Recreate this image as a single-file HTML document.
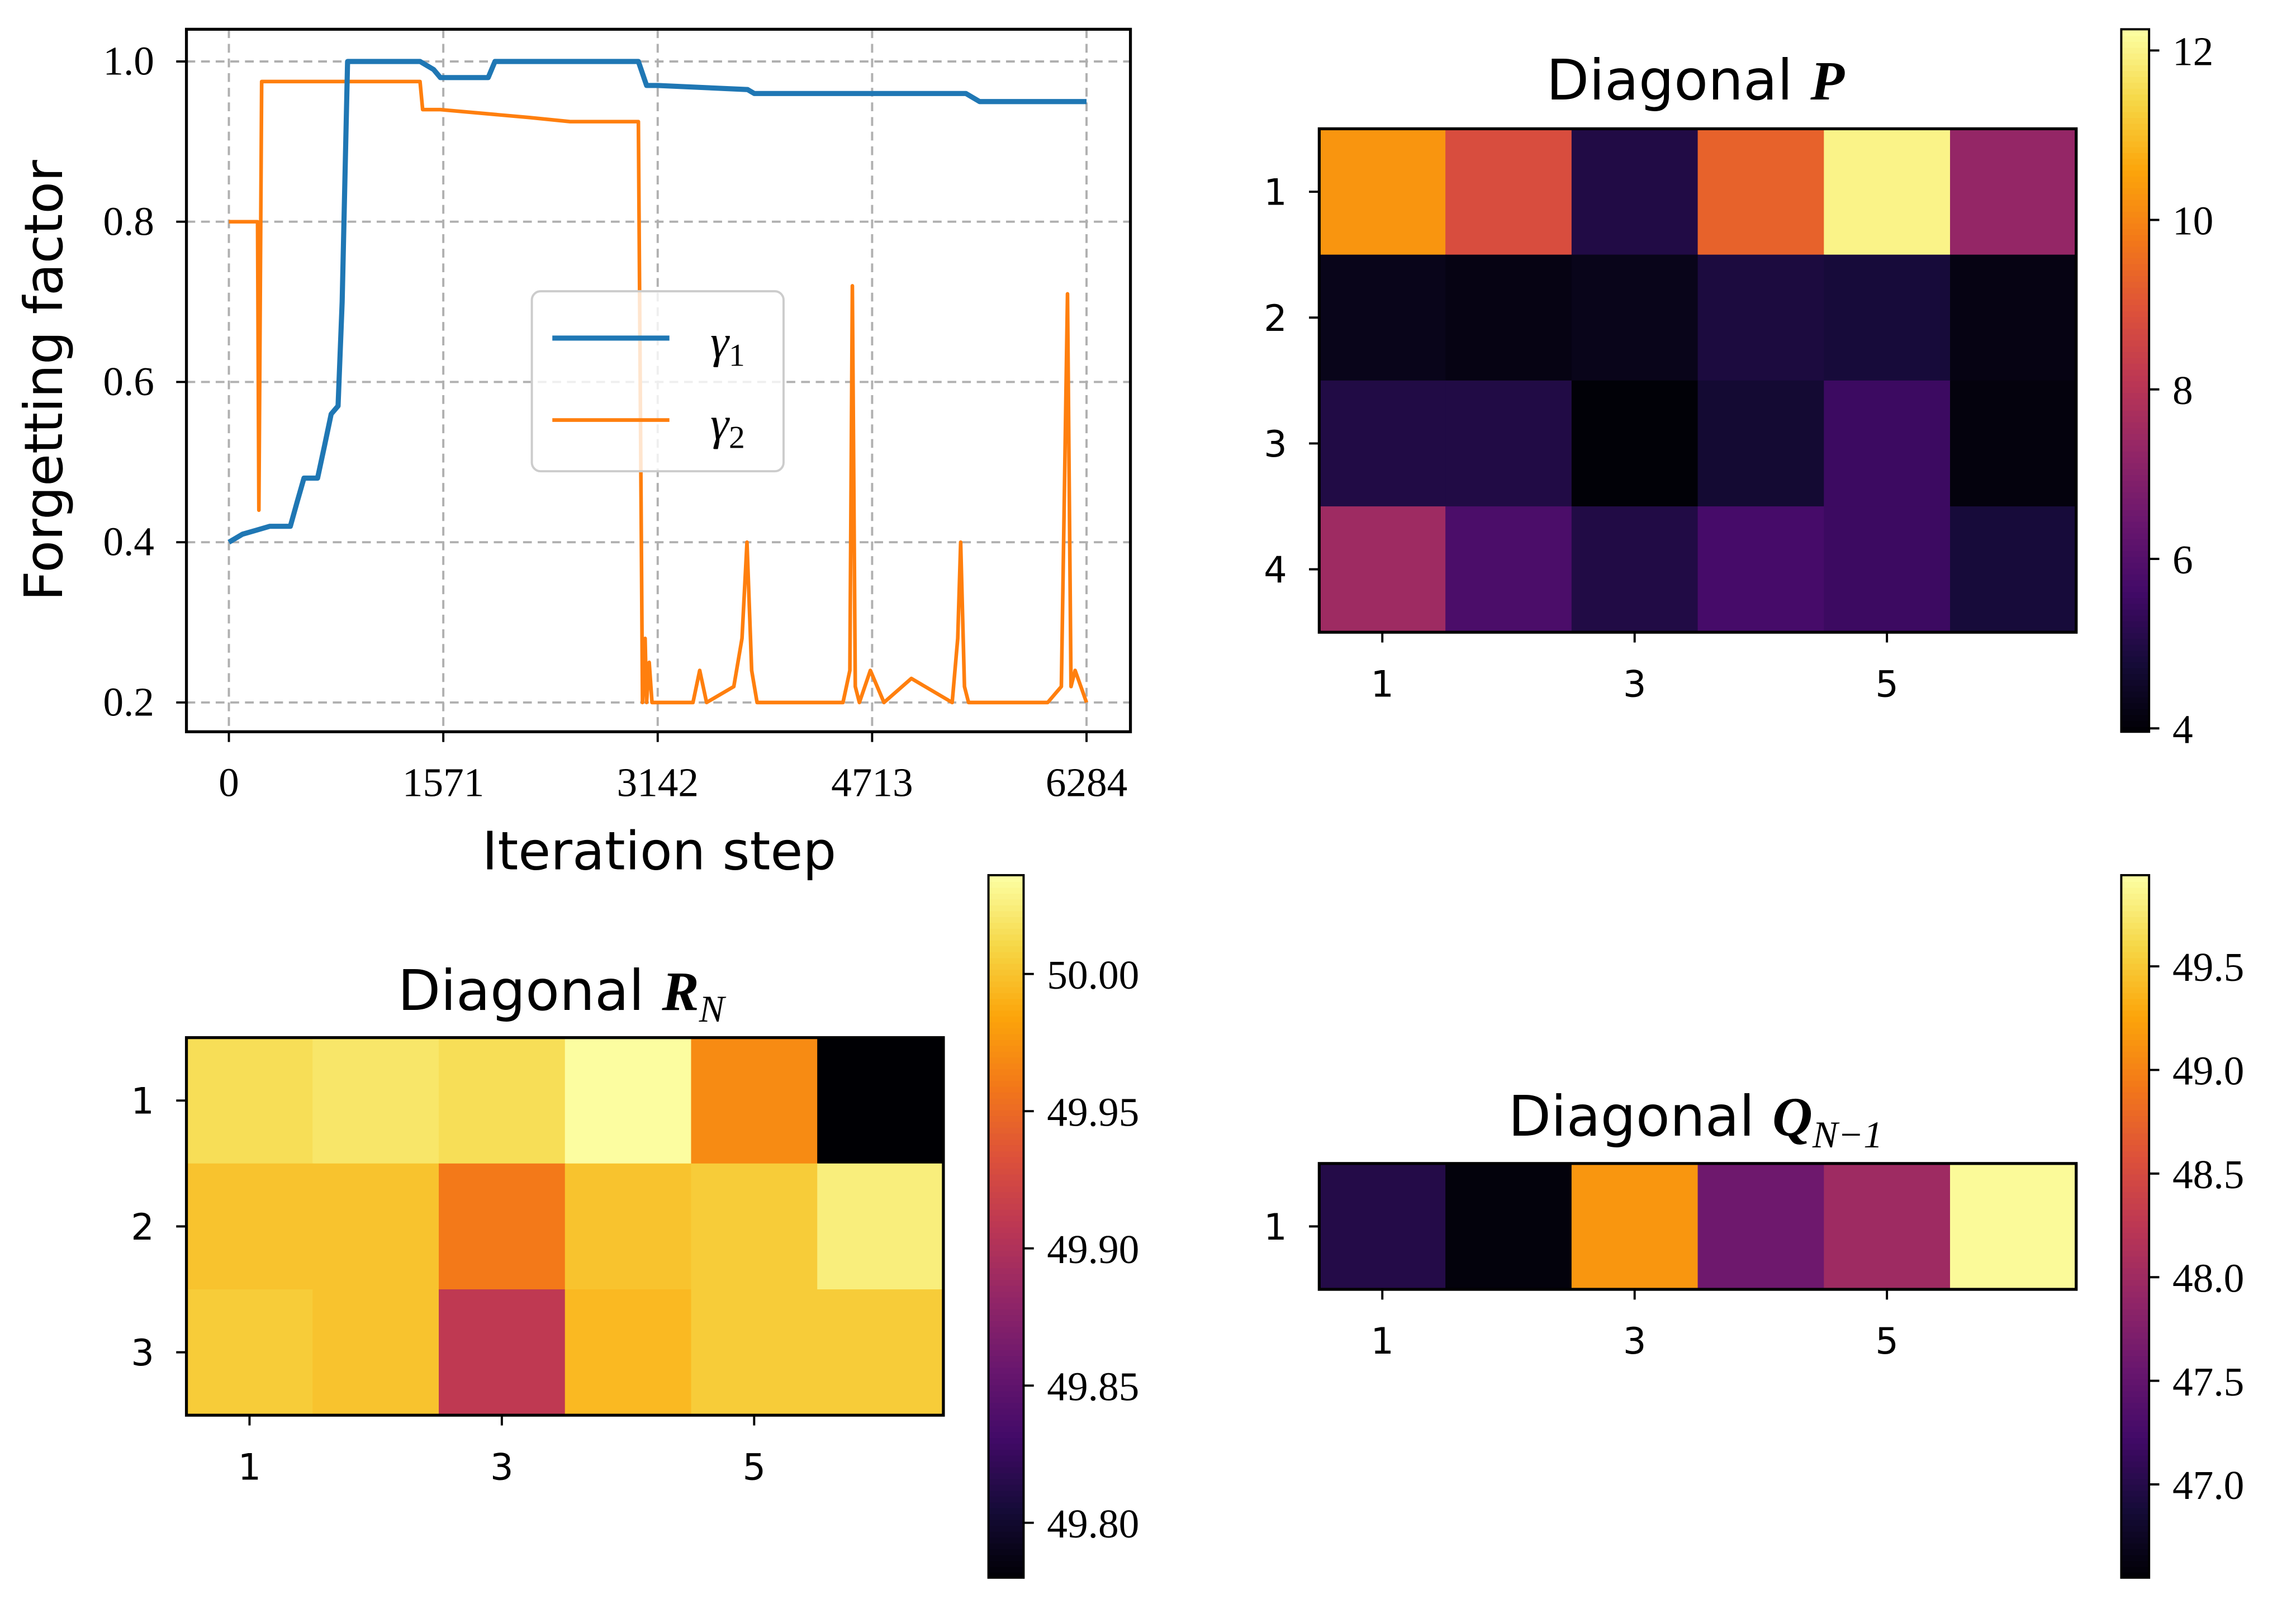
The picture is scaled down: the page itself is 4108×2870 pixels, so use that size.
<!DOCTYPE html>
<html><head><meta charset="utf-8"><style>
html,body{margin:0;padding:0;background:#fff;}
svg{display:block;}
.ser{font-family:"Liberation Serif",serif;}
.sans{font-family:"DejaVu Sans","Liberation Sans",sans-serif;}
</style></head><body>
<svg id="fig" width="4108" height="2870" viewBox="0 0 1568 1096" xmlns="http://www.w3.org/2000/svg">
<rect width="1568" height="1096" fill="#fff"/>
</svg>
<script>
// ---- line chart data ----
const g1Steps=[0,100,200,300,450,500,550,650,700,750,800,830,870,1000,1400,1500,1550,1900,1950,3000,3060,3142,3800,3850,5400,5500,6284];
const g1Vals=[0.40,0.41,0.415,0.42,0.42,0.45,0.48,0.48,0.52,0.56,0.57,0.70,1.0,1.0,1.0,0.99,0.98,0.98,1.0,1.0,0.97,0.97,0.965,0.96,0.96,0.95,0.95];
const g2Steps=[0,210,220,240,1400,1420,1550,2200,2500,3000,3030,3050,3060,3080,3100,3400,3450,3500,3700,3760,3796,3830,3870,4200,4500,4550,4568,4590,4620,4700,4800,5000,5300,5340,5362,5390,5420,6000,6100,6145,6170,6200,6284];
const g2Vals=[0.80,0.80,0.44,0.975,0.975,0.94,0.94,0.93,0.925,0.925,0.20,0.28,0.20,0.25,0.20,0.20,0.24,0.20,0.22,0.28,0.40,0.24,0.20,0.20,0.20,0.24,0.72,0.22,0.20,0.24,0.20,0.23,0.20,0.28,0.40,0.22,0.20,0.20,0.22,0.71,0.22,0.24,0.20];
const xTicks=[0,1571,3142,4713,6284];
const yTicks=[0.2,0.4,0.6,0.8,1.0];
// ---- heatmap data ----
const pVals=[[10.3,8.8,5.0,9.3,12.0,7.3],[4.3,4.2,4.3,4.9,4.8,4.2],[5.0,5.0,4.0,4.7,5.5,4.1],[7.5,5.8,5.0,5.7,5.5,4.8]];
const pTicks=[4,6,8,10,12];
const rVals=[[50.015,50.02,50.015,50.035,49.97,49.78],[50.0,50.0,49.96,50.0,50.005,50.025],[50.005,50.0,49.91,49.995,50.005,50.005]];
const rTicks=[49.80,49.85,49.90,49.95,50.00];
const qVals=[[47.0,46.6,49.15,47.6,48.0,49.9]];
const qTicks=[47.0,47.5,48.0,48.5,49.0,49.5];

const NS="http://www.w3.org/2000/svg";
const svg=document.getElementById('fig');
function el(t,a,p){const e=document.createElementNS(NS,t);for(const k in a)e.setAttribute(k,a[k]);(p||svg).appendChild(e);return e;}
function txt(s,a,p){const e=el('text',a,p);e.textContent=s;return e;}
const inf=['#000004','#160b39','#420a68','#6a176e','#932667','#bc3754','#dd513a','#f37819','#fca50a','#f6d746','#fcffa4'];
function hx(c){return [1,3,5].map(i=>parseInt(c.substr(i,2),16));}
function cmap(t){t=Math.max(0,Math.min(1,t));const f=t*10,i=Math.min(9,Math.floor(f)),r=f-i;const a=hx(inf[i]),b=hx(inf[i+1]);return 'rgb('+a.map((v,k)=>Math.round(v+(b[k]-v)*r)).join(',')+')';}

// ---- line chart ----
const L={x0:127,x1:772,y0:20,y1:500};
const sx=v=>156+v*(742-156)/6284, sy=v=>480-(v-0.2)*(480-42)/0.8;
const lc=el('g',{},svg);


xTicks.forEach(t=>{
 const g=el('line',{x1:sx(t),x2:sx(t),y1:L.y0,y2:L.y1,stroke:'#b0b0b0','stroke-width':1.5,'stroke-dasharray':'6,4'},lc);
 
 el('line',{x1:sx(t),x2:sx(t),y1:L.y1,y2:L.y1+7,stroke:'#000','stroke-width':1.5},lc);
 const tt=txt(String(t),{x:sx(t),y:L.y1+44,'text-anchor':'middle','font-size':28,class:'ser'},lc);
 
});
yTicks.forEach(t=>{
 const g=el('line',{x1:L.x0,x2:L.x1,y1:sy(t),y2:sy(t),stroke:'#b0b0b0','stroke-width':1.5,'stroke-dasharray':'6,4'},lc);
 
 el('line',{x1:L.x0-7,x2:L.x0,y1:sy(t),y2:sy(t),stroke:'#000','stroke-width':1.5},lc);
 const tt=txt(t.toFixed(1),{x:L.x0-22,y:sy(t)+9,'text-anchor':'end','font-size':28,class:'ser'},lc);
 
});
function path(xs,ys,col,w,name){const d=xs.map((x,i)=>(i?'L':'M')+sx(x).toFixed(1)+','+sy(ys[i]).toFixed(1)).join('');const p=el('path',{d:d,fill:'none',stroke:col,'stroke-width':w,'stroke-linejoin':'round'},lc);}
path(g2Steps,g2Vals,'#ff7f0e',2.5,'gamma2-line');
path(g1Steps,g1Vals,'#1f77b4',3.5,'gamma1-line');
el('rect',{x:L.x0,y:L.y0,width:L.x1-L.x0,height:L.y1-L.y0,fill:'none',stroke:'#000','stroke-width':2},lc);
let t=txt('Iteration step',{x:450,y:594,'text-anchor':'middle','font-size':36,class:'sans'},lc);

t=txt('Forgetting factor',{x:0,y:0,transform:'translate(42,260) rotate(-90)','text-anchor':'middle','font-size':36,class:'sans'},lc);

const lg=el('g',{},lc);

el('rect',{x:363,y:199,width:172,height:123,rx:6,fill:'#fff','fill-opacity':0.8,stroke:'#ccc','stroke-width':1.5},lg);
el('line',{x1:377,x2:457,y1:231,y2:231,stroke:'#1f77b4','stroke-width':3.5},lg);
el('line',{x1:377,x2:457,y1:287,y2:287,stroke:'#ff7f0e','stroke-width':2.5},lg);
t=txt('',{x:485,y:244,'font-size':32,class:'ser','font-style':'italic'},lg);t.innerHTML='γ<tspan font-size="22" font-style="normal" dy="6">1</tspan>';

t=txt('',{x:485,y:300,'font-size':32,class:'ser','font-style':'italic'},lg);t.innerHTML='γ<tspan font-size="22" font-style="normal" dy="6">2</tspan>';


// ---- heatmaps ----
function heat(name,vals,x0,y0,vmin,vmax,titleHTML,tx,ty,cb,ticks,fmt){
 const g=el('g',{},svg);
 
 const cw=86.2,ch=86;
 vals.forEach((row,r)=>row.forEach((v,c)=>{
  const rc=el('rect',{x:x0+c*cw,y:y0+r*ch,width:cw+0.6,height:ch+0.6,fill:cmap((v-vmin)/(vmax-vmin))},g);
  
 }));
 const W=cw*6,H=ch*vals.length;
 el('rect',{x:x0,y:y0,width:W,height:H,fill:'none',stroke:'#000','stroke-width':2},g);
 [1,3,5].forEach(k=>{const x=x0+(k-0.5)*cw;el('line',{x1:x,x2:x,y1:y0+H,y2:y0+H+7,stroke:'#000','stroke-width':1.5},g);
  const tt=txt(String(k),{x:x,y:y0+H+44,'text-anchor':'middle','font-size':25,class:'sans'},g);});
 vals.forEach((_,r)=>{const y=y0+(r+0.5)*ch;el('line',{x1:x0-7,x2:x0,y1:y,y2:y,stroke:'#000','stroke-width':1.5},g);
  const tt=txt(String(r+1),{x:x0-22,y:y+9,'text-anchor':'end','font-size':25,class:'sans'},g);});
 const ti=txt('',{x:tx,y:ty,'text-anchor':'middle','font-size':38,class:'sans'},g);ti.innerHTML=titleHTML;
 
 const cg=el('g',{},g);
 const N=120,hh=(cb.y1-cb.y0)/N;
 for(let i=0;i<N;i++)el('rect',{x:cb.x,y:cb.y1-(i+1)*hh,width:cb.w,height:hh+0.6,fill:cmap((i+0.5)/N)},cg);
 el('rect',{x:cb.x,y:cb.y0,width:cb.w,height:cb.y1-cb.y0,fill:'none',stroke:'#000','stroke-width':1.5},cg);
 ticks.forEach(tv=>{const y=cb.y1-(tv-vmin)/(vmax-vmin)*(cb.y1-cb.y0);
  el('line',{x1:cb.x+cb.w,x2:cb.x+cb.w+7,y1:y,y2:y,stroke:'#000','stroke-width':1.5},cg);
  const tt=txt(fmt(tv),{x:cb.x+cb.w+16,y:y+10,'font-size':28,class:'ser'},cg);});
}
heat('diagonal-p-heatmap',pVals,901,88,3.96,12.25,'Diagonal <tspan font-family="Liberation Serif,serif" font-weight="bold" font-style="italic">P</tspan>',1158,68,{x:1449,w:19,y0:20,y1:500},pTicks,v=>String(v));
heat('diagonal-rn-heatmap',rVals,127,709,49.78,50.036,'Diagonal <tspan font-family="Liberation Serif,serif" font-weight="bold" font-style="italic">R</tspan><tspan font-family="Liberation Serif,serif" font-style="italic" font-size="26" dy="8">N</tspan>',383,690,{x:675,w:24,y0:598,y1:1078},rTicks,v=>v.toFixed(2));
heat('diagonal-q-heatmap',qVals,901,795,46.55,49.94,'Diagonal <tspan font-family="Liberation Serif,serif" font-weight="bold" font-style="italic">Q</tspan><tspan font-family="Liberation Serif,serif" font-style="italic" font-size="26" dy="8">N−1</tspan>',1158,776,{x:1449,w:19,y0:598,y1:1078},qTicks,v=>v.toFixed(1));
</script>
</body></html>
